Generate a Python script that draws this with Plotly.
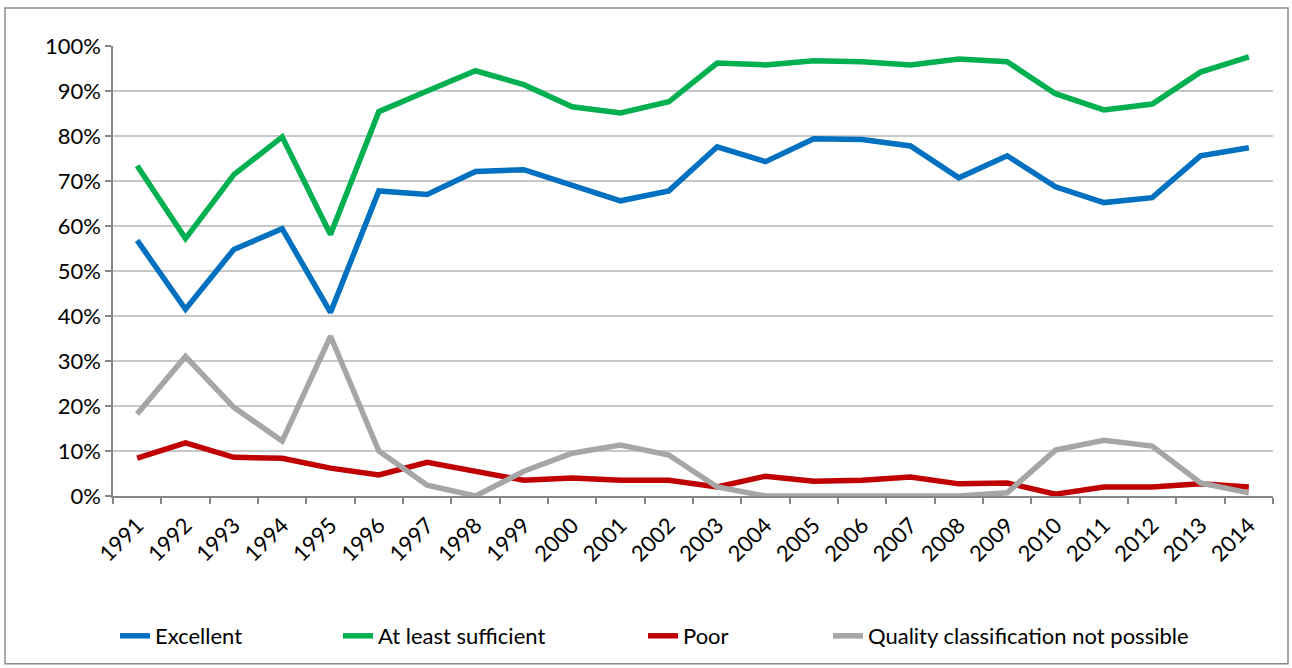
import plotly.graph_objects as go

years = [str(y) for y in range(1991, 2015)]
excellent = [56.8, 41.5, 54.8, 59.4, 40.8, 67.8, 67.0, 72.1, 72.5, 69.2, 65.6, 67.8,
             77.6, 74.3, 79.4, 79.2, 77.8, 70.7, 75.6, 68.7, 65.2, 66.3, 75.6, 77.4]
sufficient = [73.4, 57.2, 71.4, 79.8, 58.1, 85.4, 90.0, 94.5, 91.4, 86.5, 85.1, 87.6,
              96.2, 95.8, 96.7, 96.5, 95.8, 97.1, 96.5, 89.4, 85.8, 87.1, 94.2, 97.6]
poor = [8.4, 11.8, 8.6, 8.4, 6.2, 4.7, 7.5, 5.5, 3.5, 4.0, 3.5, 3.5,
        2.0, 4.4, 3.3, 3.5, 4.2, 2.7, 2.9, 0.4, 2.0, 2.0, 2.7, 2.0]
not_possible = [18.2, 31.0, 19.7, 12.2, 35.5, 10.0, 2.4, 0.0, 5.5, 9.5, 11.3, 9.1,
                2.0, 0.0, 0.0, 0.0, 0.0, 0.0, 0.7, 10.2, 12.4, 11.1, 2.9, 0.7]

series = [
    ("Excellent", excellent, "#0070C0", "legend"),
    ("At least sufficient", sufficient, "#00B050", "legend2"),
    ("Poor", poor, "#C00000", "legend3"),
    ("Quality classification not possible", not_possible, "#A6A6A6", "legend4"),
]

FONT = "Lato, 'Open Sans', sans-serif"
W, H = 1292, 668
ml, mr, mt, mb = 113, 19, 46, 171
pw, ph = W - ml - mr, H - mt - mb

def px_to_paper_x(px):
    return (px - ml) / pw

def px_to_paper_y(py):
    return (H - mb - py) / ph

fig = go.Figure()
for name, vals, color, lg in series:
    fig.add_trace(go.Scatter(
        x=years, y=[v / 100 for v in vals], name=name, mode="lines",
        line=dict(color=color, width=5.5), legend=lg, showlegend=True,
    ))

legend_x = [115, 338, 643, 828]
leg_common = dict(orientation="h", yanchor="middle", xanchor="left",
                  y=px_to_paper_y(636), bgcolor="rgba(0,0,0,0)", visible=True,
                  font=dict(family=FONT, size=22, color="#000000"))
fig.update_layout(
    width=W, height=H,
    showlegend=True,
    margin=dict(l=ml, r=mr, t=mt, b=mb),
    paper_bgcolor="white", plot_bgcolor="white",
    font=dict(family=FONT, size=22, color="#000000"),
    legend=dict(x=px_to_paper_x(legend_x[0]), **leg_common),
    legend2=dict(x=px_to_paper_x(legend_x[1]), **leg_common),
    legend3=dict(x=px_to_paper_x(legend_x[2]), **leg_common),
    legend4=dict(x=px_to_paper_x(legend_x[3]), **leg_common),
    xaxis=dict(
        type="category", range=[-0.5, 23.5], tickson="boundaries",
        showgrid=False, showline=True, linecolor="#868686", linewidth=1.5,
        ticks="outside", ticklen=6, tickcolor="#868686", tickwidth=1.5,
        tickangle=-45, tickfont=dict(family=FONT, size=22),
        ticklabelstandoff=6,
    ),
    yaxis=dict(
        range=[0, 1], dtick=0.1, tickformat=".0%",
        showgrid=True, gridcolor="#C8C8C8", gridwidth=1.5,
        showline=True, linecolor="#868686", linewidth=1.5,
        ticks="outside", ticklen=6, tickcolor="#868686", tickwidth=1.5,
        zeroline=False, tickfont=dict(family=FONT, size=22),
    ),
    shapes=[dict(
        type="rect", xref="paper", yref="paper",
        x0=px_to_paper_x(5), x1=px_to_paper_x(1288),
        y0=px_to_paper_y(665), y1=px_to_paper_y(8),
        line=dict(color="#8C8C8C", width=1.5), fillcolor="rgba(0,0,0,0)",
        layer="below",
    )],
)

fig.write_html("out.html", config={"displayModeBar": False},
               post_script="document.body.style.margin='0';")
